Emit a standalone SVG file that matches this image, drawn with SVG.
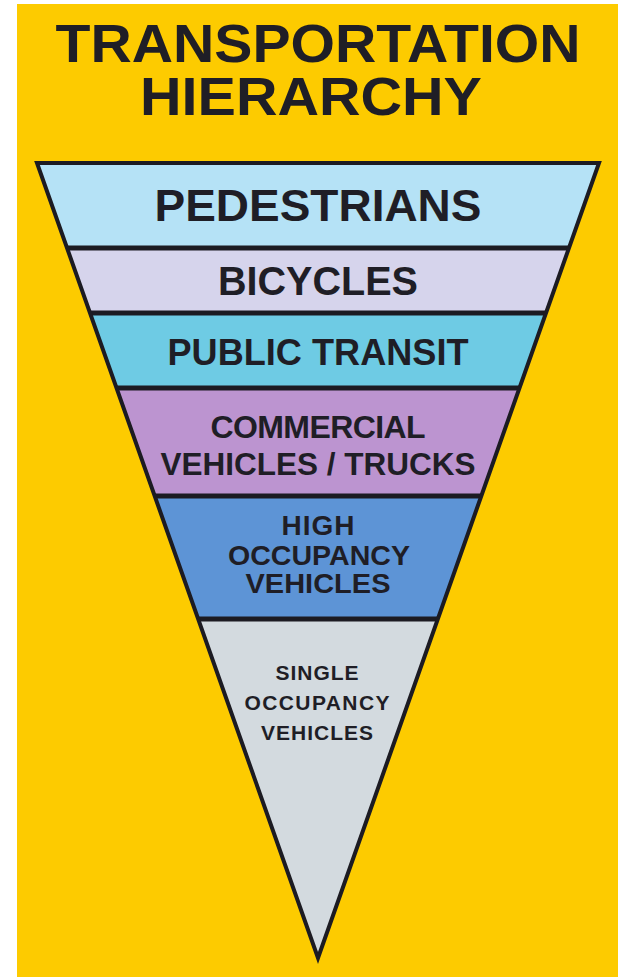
<svg xmlns="http://www.w3.org/2000/svg" width="618" height="977" viewBox="0 0 618 977">
  <style>
    .t { font-family: "Liberation Sans", Arial, sans-serif; font-weight: bold; fill: #1f1e26; text-anchor: middle; }
    .band { stroke: none; }
    .div { stroke: #1c1b22; stroke-width: 5; fill: none; }
    .outline { stroke: #1c1b22; stroke-width: 4; fill: none; stroke-linejoin: miter; }
  </style>
  <rect x="0" y="0" width="618" height="977" fill="#ffffff"/>
  <rect x="17" y="4" width="601" height="973" fill="#fdcb00"/>

  <g id="title">
    <text class="t" x="318" y="62" font-size="54" textLength="525" lengthAdjust="spacingAndGlyphs">TRANSPORTATION</text>
    <text class="t" x="311" y="115" font-size="54" textLength="342" lengthAdjust="spacingAndGlyphs">HIERARCHY</text>
  </g>

  <g id="pedestrians">
    <polygon class="band" points="37,163 599,163 569,248 67,248" fill="#b5e2f6"/>
    <text class="t" x="318" y="221" font-size="45" textLength="327" lengthAdjust="spacingAndGlyphs">PEDESTRIANS</text>
  </g>
  <g id="bicycles">
    <polygon class="band" points="67,248 569,248 546,313 90,313" fill="#d6d4ec"/>
    <text class="t" x="318" y="295" font-size="41" textLength="200" lengthAdjust="spacingAndGlyphs">BICYCLES</text>
  </g>
  <g id="public-transit">
    <polygon class="band" points="90,313 546,313 519.5,388 116.5,388" fill="#6ecbe4"/>
    <text class="t" x="318" y="365" font-size="36" textLength="301" lengthAdjust="spacingAndGlyphs">PUBLIC TRANSIT</text>
  </g>
  <g id="commercial">
    <polygon class="band" points="116.5,388 519.5,388 481.3,496 154.7,496" fill="#bc94d0"/>
    <text class="t" x="318" y="438" font-size="32" textLength="215" lengthAdjust="spacing">COMMERCIAL</text>
    <text class="t" x="318" y="475" font-size="32" textLength="315" lengthAdjust="spacingAndGlyphs">VEHICLES / TRUCKS</text>
  </g>
  <g id="high-occupancy">
    <polygon class="band" points="154.7,496 481.3,496 437.8,619 198.2,619" fill="#5d94d6"/>
    <text class="t" x="318" y="535" font-size="28" textLength="73" lengthAdjust="spacing">HIGH</text>
    <text class="t" x="319" y="565" font-size="28" textLength="182" lengthAdjust="spacingAndGlyphs">OCCUPANCY</text>
    <text class="t" x="318" y="593" font-size="28" textLength="145" lengthAdjust="spacingAndGlyphs">VEHICLES</text>
  </g>
  <g id="single-occupancy">
    <polygon class="band" points="198.2,619 437.8,619 318,958" fill="#d3dadf"/>
    <text class="t" x="317" y="680" font-size="21" textLength="83" lengthAdjust="spacing">SINGLE</text>
    <text class="t" x="317" y="710" font-size="21" textLength="145" lengthAdjust="spacing">OCCUPANCY</text>
    <text class="t" x="317" y="740" font-size="21" textLength="112" lengthAdjust="spacing">VEHICLES</text>
  </g>

  <g id="connectors">
    <line class="div" x1="67" y1="248" x2="569" y2="248"/>
    <line class="div" x1="90" y1="313" x2="546" y2="313"/>
    <line class="div" x1="116.5" y1="388" x2="519.5" y2="388"/>
    <line class="div" x1="154.7" y1="496" x2="481.3" y2="496"/>
    <line class="div" x1="198.2" y1="619" x2="437.8" y2="619"/>
    <polygon class="outline" points="37,163 599,163 318,958"/>
  </g>
</svg>
